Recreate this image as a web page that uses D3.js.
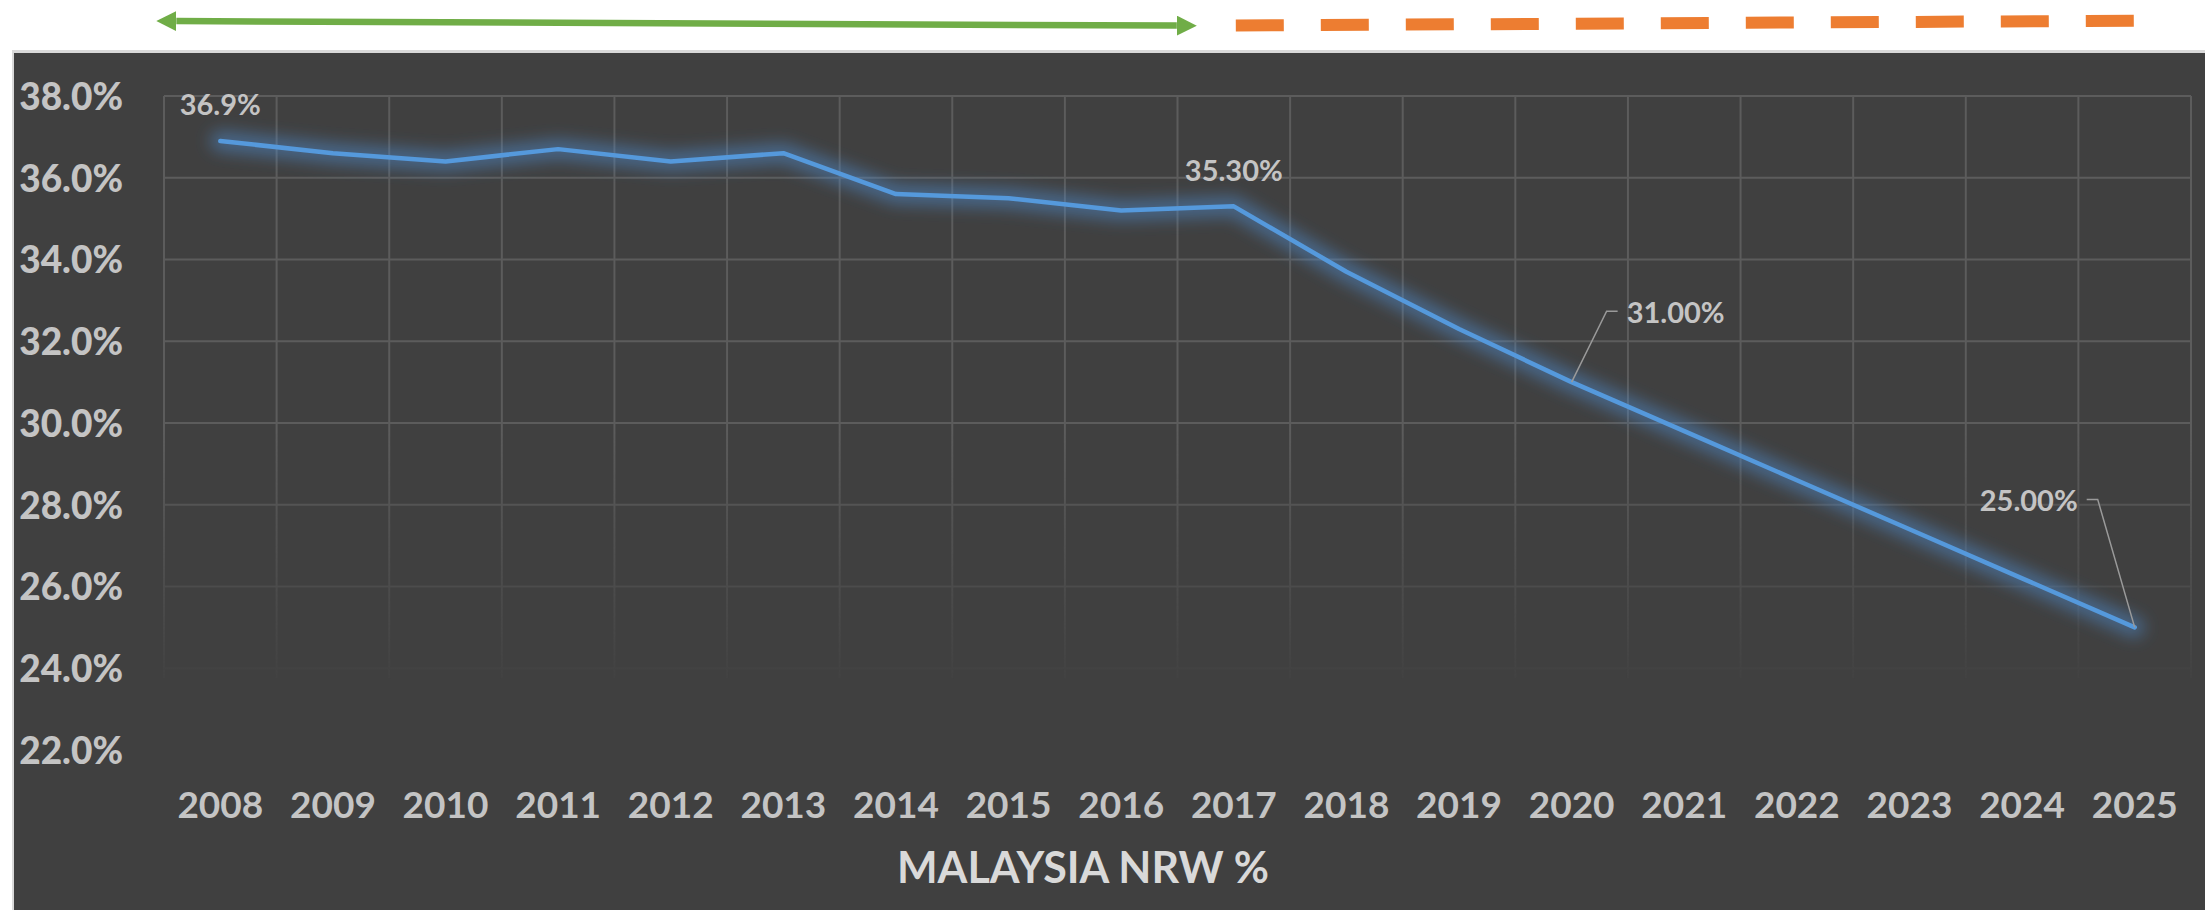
<!DOCTYPE html>
<html>
	<head>
		<title>Malaysia NRW %</title>
		<meta charset="utf-8">
		<script type="text/javascript" src="https://cdn.jsdelivr.net/npm/d3@7"></script>
		<style>
			body { margin: 0; background: #ffffff; }
			text { font-family: "Lato", "Open Sans", sans-serif; font-weight: bold; }
		</style>
	</head>

	<body>
		<script>

		// chart values
		var years = ["2008", "2009", "2010", "2011", "2012", "2013", "2014", "2015", "2016",
			"2017", "2018", "2019", "2020", "2021", "2022", "2023", "2024", "2025"];
		var nrw = [36.9, 36.6, 36.4, 36.7, 36.4, 36.6, 35.6, 35.5, 35.2,
			35.3, 33.7, 32.3, 31.0, 29.8, 28.6, 27.4, 26.2, 25.0];
		var yTicks = [22, 24, 26, 28, 30, 32, 34, 36, 38];
		var gridTicks = [24, 26, 28, 30, 32, 34, 36, 38];
		var labelYears = ["2008", "2017", "2020", "2025"];
		var labelTexts = ["36.9%", "35.30%", "31.00%", "25.00%"];
		var title = "MALAYSIA NRW %";

		var svg_width = 2205;
		var svg_height = 910;
		var plot = {left: 164, right: 2191, top: 96, bottom: 750};

		var svg = d3.select("body").append("svg")
			.attr("width", svg_width)
			.attr("height", svg_height);

		var defs = svg.append("defs");
		defs.append("filter")
			.attr("id", "glow")
			.attr("x", "-10%").attr("y", "-50%")
			.attr("width", "120%").attr("height", "200%")
			.append("feGaussianBlur")
			.attr("stdDeviation", 8);

		var fade = defs.append("linearGradient")
			.attr("id", "fade")
			.attr("gradientUnits", "userSpaceOnUse")
			.attr("x1", 0).attr("y1", 430)
			.attr("x2", 0).attr("y2", 700);
		fade.append("stop").attr("offset", 0).attr("stop-color", "#fff").attr("stop-opacity", 1);
		fade.append("stop").attr("offset", 1).attr("stop-color", "#fff").attr("stop-opacity", 0);
		defs.append("mask")
			.attr("id", "gridmask")
			.attr("maskUnits", "userSpaceOnUse")
			.append("rect")
			.attr("x", 0).attr("y", 0)
			.attr("width", svg_width).attr("height", svg_height)
			.attr("fill", "url(#fade)");

		defs.append("marker")
			.attr("id", "head")
			.attr("markerUnits", "userSpaceOnUse")
			.attr("viewBox", "0 -10 20 20")
			.attr("refX", 0).attr("refY", 0)
			.attr("markerWidth", 20).attr("markerHeight", 20)
			.attr("orient", "auto-start-reverse")
			.append("path")
			.attr("d", "M0,-10L20,0L0,10Z")
			.attr("fill", "#70AD47");

		// chart panel
		svg.append("rect")
			.attr("x", 12).attr("y", 50)
			.attr("width", svg_width - 12).attr("height", svg_height - 50)
			.attr("fill", "#d9d9d9");
		svg.append("rect")
			.attr("x", 14).attr("y", 53)
			.attr("width", svg_width - 14).attr("height", svg_height - 53)
			.attr("fill", "#404040");

		var x = d3.scaleBand().domain(years).range([plot.left, plot.right]).padding(0);
		var y = d3.scaleLinear().domain([22, 38]).range([plot.bottom, plot.top]);
		var cx = function(d) { return x(d) + x.bandwidth() / 2; };

		// gridlines, fading towards the bottom
		var grid = svg.append("g")
			.attr("mask", "url(#gridmask)")
			.attr("stroke", "#5c5c5c")
			.attr("stroke-width", 2);
		grid.selectAll("line.h")
			.data(gridTicks)
			.enter()
			.append("line")
			.attr("class", "h")
			.attr("x1", plot.left).attr("x2", plot.right)
			.attr("y1", function(d) { return y(d); })
			.attr("y2", function(d) { return y(d); });
		grid.selectAll("line.v")
			.data(years.concat(["end"]))
			.enter()
			.append("line")
			.attr("class", "v")
			.attr("x1", function(d, i) { return plot.left + i * x.bandwidth(); })
			.attr("x2", function(d, i) { return plot.left + i * x.bandwidth(); })
			.attr("y1", plot.top)
			.attr("y2", y(24) + 10);

		// axes
		var yAxis = d3.axisLeft(y)
			.tickValues(yTicks)
			.tickFormat(function(d) { return d.toFixed(1) + "%"; })
			.tickSize(0);
		var gy = svg.append("g")
			.attr("transform", "translate(123,0)")
			.call(yAxis);
		gy.select(".domain").remove();
		gy.selectAll("text")
			.attr("x", 0)
			.attr("dy", "0.36em")
			.attr("fill", "#c4c4c4")
			.style("font-size", "37px")
			.style("font-family", "Lato")
			.style("font-weight", "900");

		var xAxis = d3.axisBottom(x).tickSize(0);
		var gx = svg.append("g")
			.attr("transform", "translate(0,805)")
			.call(xAxis);
		gx.select(".domain").remove();
		gx.selectAll("text")
			.attr("y", 0)
			.attr("dy", "0.36em")
			.attr("fill", "#c4c4c4")
			.style("font-size", "37px")
			.style("font-family", "Lato")
			.style("font-weight", "bold");

		svg.append("text")
			.attr("x", 1083)
			.attr("y", 868)
			.attr("dy", "0.36em")
			.attr("text-anchor", "middle")
			.attr("fill", "#d9d9d9")
			.style("font-size", "43px")
			.text(title);

		// the line with its glow
		var line = d3.line()
			.x(function(d, i) { return cx(years[i]); })
			.y(function(d) { return y(d); });
		svg.append("path")
			.datum(nrw)
			.attr("d", line)
			.attr("fill", "none")
			.attr("stroke", "#4f8fd4")
			.attr("stroke-width", 20)
			.attr("stroke-opacity", 0.5)
			.attr("stroke-linejoin", "round")
			.attr("stroke-linecap", "round")
			.attr("filter", "url(#glow)");
		svg.append("path")
			.datum(nrw)
			.attr("d", line)
			.attr("fill", "none")
			.attr("stroke", "#5599dc")
			.attr("stroke-width", 4.5)
			.attr("stroke-linejoin", "round")
			.attr("stroke-linecap", "round");

		// data labels
		var valueOf = function(yr) { return nrw[years.indexOf(yr)]; };
		var lbl = svg.append("g")
			.attr("fill", "#c4c4c4")
			.style("font-size", "29px");
		lbl.append("text")
			.attr("x", cx("2008")).attr("y", y(valueOf("2008")) - 36)
			.attr("dy", "0.36em").attr("text-anchor", "middle")
			.text(labelTexts[0]);
		lbl.append("text")
			.attr("x", cx("2017")).attr("y", y(valueOf("2017")) - 36)
			.attr("dy", "0.36em").attr("text-anchor", "middle")
			.text(labelTexts[1]);
		lbl.append("text")
			.attr("x", cx("2020") + 55).attr("y", y(valueOf("2020")) - 70)
			.attr("dy", "0.36em").attr("text-anchor", "start")
			.text(labelTexts[2]);
		lbl.append("text")
			.attr("x", cx("2025") - 57).attr("y", y(valueOf("2025")) - 127)
			.attr("dy", "0.36em").attr("text-anchor", "end")
			.text(labelTexts[3]);

		// leader lines
		var leaders = svg.append("g")
			.attr("fill", "none")
			.attr("stroke", "#9a9a9a")
			.attr("stroke-width", 1.5);
		leaders.append("path")
			.attr("d", "M" + cx("2020") + "," + y(valueOf("2020")) +
				"L" + (cx("2020") + 35) + "," + (y(valueOf("2020")) - 71) +
				"H" + (cx("2020") + 46));
		leaders.append("path")
			.attr("d", "M" + cx("2025") + "," + y(valueOf("2025")) +
				"L" + (cx("2025") - 37) + "," + (y(valueOf("2025")) - 128) +
				"H" + (cx("2025") - 48));

		// period markers above the chart
		svg.append("line")
			.attr("x1", cx("2008") - 44).attr("y1", 21.1)
			.attr("x2", cx("2017") - 57).attr("y2", 25.6)
			.attr("stroke", "#70AD47")
			.attr("stroke-width", 6.5)
			.attr("marker-start", "url(#head)")
			.attr("marker-end", "url(#head)");
		svg.append("line")
			.attr("x1", cx("2017") + 2).attr("y1", 25.5)
			.attr("x2", cx("2025") + 2).attr("y2", 20.7)
			.attr("stroke", "#ED7D31")
			.attr("stroke-width", 12)
			.attr("stroke-dasharray", "48 37");

		</script>
	</body>
</html>
